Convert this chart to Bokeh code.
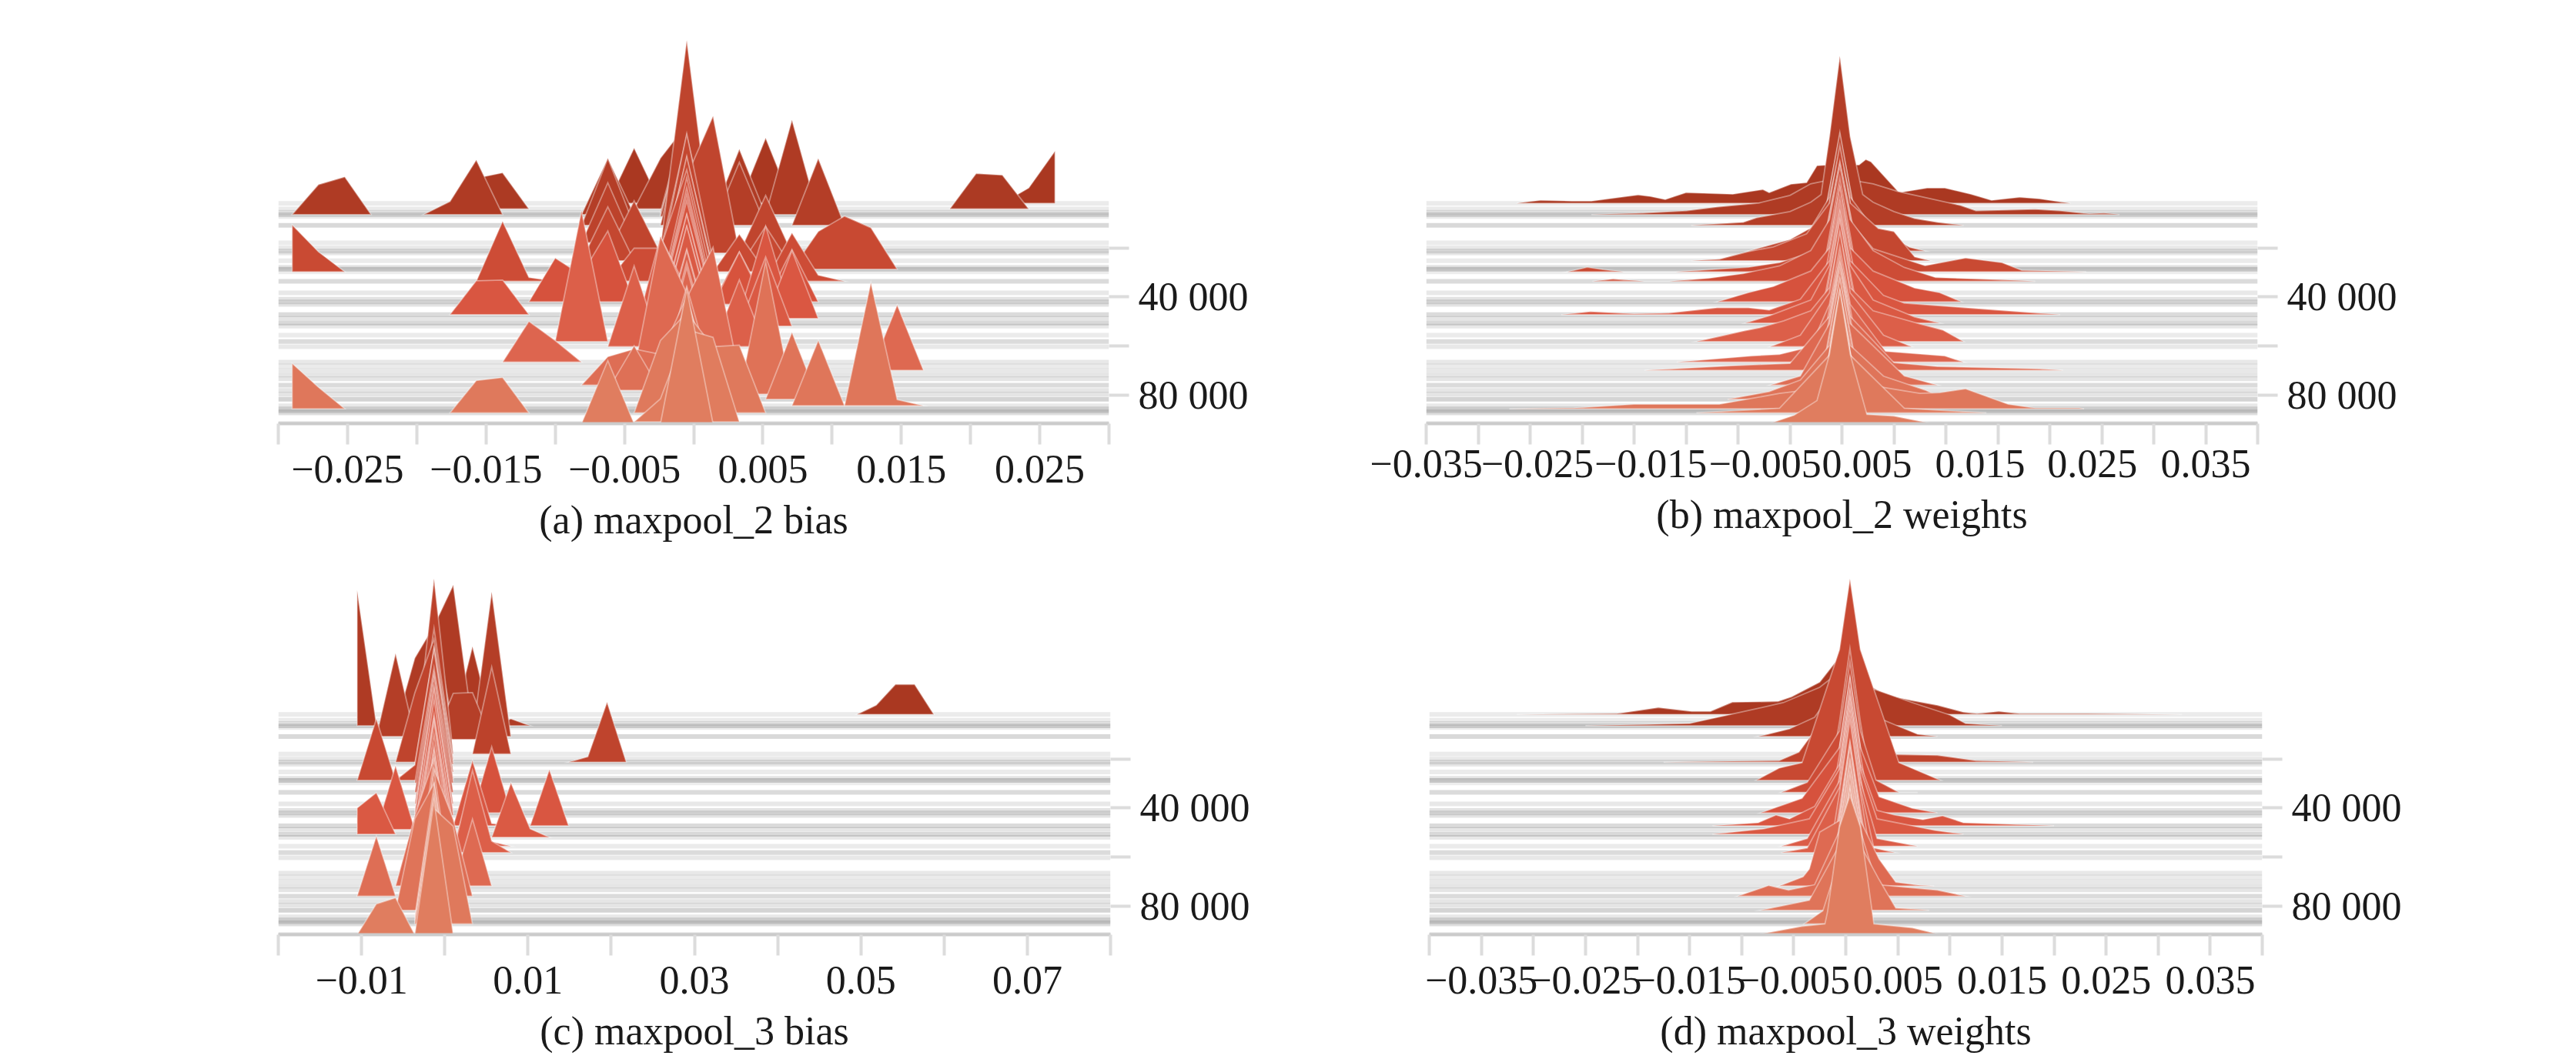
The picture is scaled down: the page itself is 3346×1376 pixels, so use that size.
from bokeh.plotting import figure
from bokeh.layouts import column, row
from bokeh.models import ColumnDataSource, FixedTicker, LinearAxis, Range1d
from bokeh.embed import file_html
from bokeh.resources import INLINE

FONT = "Liberation Serif"

# training steps of the recorded histograms (shared by all four panels)
steps = [1780, 4080, 5440, 6380, 7120, 10780, 17900, 19990, 21250, 22090,
         25220, 27840, 28680, 29730, 33600, 38310, 40920, 41970, 43020, 47200,
         48770, 50660, 51920, 55580, 58190, 60290, 66570, 68140, 69920, 71800,
         73380, 75990, 78090, 79660, 81740, 84370, 85630, 86440, 87290, 91700]
stripe_alpha = [0.08, 0.08, 0.09, 0.15, 0.08, 0.15, 0.08, 0.09, 0.11, 0.09,
                0.08, 0.10, 0.17, 0.07, 0.14, 0.09, 0.11, 0.11, 0.11, 0.14,
                0.10, 0.15, 0.09, 0.08, 0.14, 0.09, 0.09, 0.08, 0.09, 0.10,
                0.10, 0.14, 0.10, 0.10, 0.17, 0.09, 0.13, 0.13, 0.13, 0.14]
height_unit = 314          # one unit of density, in steps of the y scale

# ---- (a) maxpool_2 bias: bin index -> density
a_bin0, a_bin_width = -0.0005, 0.0019
a_walls = (-15, 14)
a_core = [120, 110, 130, 120, 125, 140, 150, 270, 150, 140, 165, 142, 130, 150, 145, 150, 145, 140, 135, 130,
          135, 125, 130, 135, 120, 125, 130, 128, 125, 130, 120, 115, 120, 118, 125, 120, 110, 115, 130, 175]
a_peaks = {
    1780: {13: 20, 14: 68, -2: 72, 3: 85},
    4080: {11: 46, 12: 44, -8: 40, -7: 47, -1: 66},
    6380: {-14: 39, -13: 49, -9: 17, -8: 71, -3: 73, 2: 85, 4: 123},
    10780: {-3: 87, 2: 82, 5: 87},
    17900: {-3: 78},
    22090: {0: 100, 1: 178, -2: 68, 3: 75},
    25220: {-3: 70},
    27840: {3: 53},
    28680: {5: 49, 6: 69, 7: 54},
    29730: {-15: 61, -14: 26, 2: 49},
    33600: {-7: 78, -6: 5, 4: 63, 5: 8, -2: 43, -1: 43},
    41970: {-5: 57, -4: 35, -3: 92, 4: 68, 2: 65},
    43020: {2: 68},
    47200: {-8: 44, -7: 45, 3: 115},
    48770: {4: 88},
    51920: {3: 90},
    55580: {-1: 128, 0: 60},
    58190: {-4: 170},
    60290: {-2: 105, 2: 87},
    66570: {-6: 53, -5: 28},
    69920: {8: 85, -1: 174, 0: 100},
    71800: {0: 100, 1: 166},
    75990: {-3: 37, -2: 47, -1: 40},
    78090: {-2: 58},
    79660: {3: 172},
    81740: {4: 87},
    84370: {7: 160, 8: 8, 5: 85},
    85630: {-15: 59, -14: 28},
    87290: {-8: 42, -7: 46, -1: 94, 1: 86, 2: 88},
    91000: {-1: 30, 0: 120, 1: 110},
    91700: {-3: 82},
}
a_ticks = [-0.025, -0.015, -0.005, 0.005, 0.015, 0.025]
a_labels = ["\u22120.025", "\u22120.015", "\u22120.005", "0.005", "0.015", "0.025"]
a_minor = [-0.03, -0.02, -0.01, 0, 0.01, 0.02, 0.03]

# ---- (c) maxpool_3 bias: bin index -> density
c_bin0, c_bin_width = -0.00129, 0.00231
c_walls = (-4, 99)
c_core = [100, 110, 120, 130, 135, 150, 228, 170, 160, 150, 160, 150, 170, 150, 155, 165, 160, 155, 165, 160,
          170, 150, 160, 165, 170, 160, 165, 160, 170, 165, 170, 165, 170, 160, 165, 170, 160, 165, 150, 174]
c_peaks = {
    1780: {23: 12, 24: 39, 25: 39},
    5440: {2: 100},
    6380: {-4: 176, -3: 2, -1: 88, 1: 183, 4: 9},
    10780: {-2: 108, 3: 188},
    12000: {1: 60, 2: 61},
    17900: {3: 113},
    21250: {-1: 90, 8: 7, 9: 78},
    28680: {-3: 80, -1: 20},
    41970: {3: 86},
    47200: {6: 73, 2: 85, 3: 3},
    48770: {-2: 83},
    50660: {-4: 34, -3: 54},
    51920: {4: 71, 5: 11},
    55580: {2: 83, 3: 6},
    58190: {2: 107, 3: 15},
    71800: {-1: 91, 2: 87},
    75990: {-3: 78, 1: 100},
    81740: {-1: 119},
    87290: {1: 127},
    91700: {-3: 40, -2: 48},
}
c_ticks = [-0.01, 0.01, 0.03, 0.05, 0.07]
c_labels = ["\u22120.01", "0.01", "0.03", "0.05", "0.07"]
c_minor = [-0.02, 0, 0.02, 0.04, 0.06, 0.08]

# ---- (b) maxpool_2 weights: x in thousandths, (apex, flank) density of the central spike
b_centre = (-1.2, -0.2, 0.8)
b_feet = (-2.2, 1.8)
b_core = [(60, 50), (65, 40), (70, 40), (100, 45), (80, 45), (220, 115), (140, 70), (150, 75), (130, 70), (135, 65),
          (150, 75), (135, 70), (140, 70), (130, 65), (150, 80), (150, 75), (145, 75), (150, 70), (140, 70), (145, 70),
          (140, 65), (145, 75), (140, 70), (150, 75), (140, 70), (150, 70), (150, 75), (140, 75), (150, 70), (145, 75),
          (150, 70), (150, 80), (145, 75), (150, 75), (140, 70), (150, 70), (145, 70), (150, 75), (150, 75), (173, 90)]
b_wings = {
    1780: ([(-31.3, 0), (-30.3, 2), (-29, 4), (-26, 3), (-24.1, 3), (-19.6, 11), (-18.4, 9), (-17, 5), (-15, 14),
            (-10.5, 12), (-7.6, 18), (-7, 14), (-4.9, 25), (-3.4, 27), (-2.4, 49)],
           [(1.65, 50), (2.3, 57), (2.8, 54), (5.5, 14), (8.2, 20), (9.9, 20), (12.4, 12), (14.4, 4), (17.1, 8),
            (19, 6), (21, 2), (22, 0)]),
    6380: ([(-24.1, 0), (-19.2, 2), (-15, 5), (-12, 10), (-8, 15), (-5, 25), (-3, 40)],
           [(3, 40), (5.4, 30), (11.4, 12), (12.9, 5), (18.6, 7), (21, 5), (23.8, 1), (25.2, 2), (26.7, 0)]),
    10780: ([(-14.5, 0), (-9.5, 4), (-8.2, 10), (-5, 18), (-3, 30), (-2, 40)],
            [(2, 40), (3, 30), (5, 18), (7, 9), (9.2, 4), (11.7, 0)]),
    21250: ([(-9, 0), (-5, 15), (-3, 30)], [(3, 30), (4.9, 18), (6.5, 5), (8, 0)]),
    25220: ([(-14.5, 0), (-11.8, 2), (-9, 12), (-6.6, 18), (-3.4, 35)], [(3.5, 42), (5, 38), (7, 5), (8.5, 0)]),
    29730: ([(-26.4, 0), (-24.5, 6), (-23, 3), (-21, 0), (-16, 0), (-12.5, 3), (-9, 6), (-6, 12), (-3, 25)],
            [(3, 30), (8, 8), (11.9, 18), (15.4, 12), (17.3, 2), (23.5, 0)]),
    33600: ([(-24, 0), (-22, 3), (-19, 0), (-16.6, 0), (-12.8, 4), (-9.5, 10), (-6, 20), (-3, 40)],
            [(3, 40), (6, 18), (9, 5), (15.4, 2), (18.6, 0)]),
    41970: ([(-12, 0), (-9, 12), (-6.6, 20), (-3, 40)], [(3, 40), (7, 18), (9.4, 12), (11.5, 0)]),
    47200: ([(-27, 0), (-26.2, 1), (-24.2, 4), (-20, 1), (-16.7, 2), (-12, 9), (-9, 9), (-7, 6), (-4, 20)],
            [(4, 25), (6, 15), (12.9, 8), (18.8, 2), (21, 0)]),
    50660: ([(-9.3, 0), (-6.9, 10), (-3, 30)], [(3, 30), (7, 8), (9.4, 0)]),
    58190: ([(-14, 0), (-9.4, 14), (-7.9, 18), (-5.6, 27), (-3, 40)], [(3, 40), (7.5, 23), (9.7, 15), (11.7, 0)]),
    60290: ([(-6.9, 0), (-4, 15)], [(4, 15), (6.7, 0)]),
    66570: ([(-15.9, 0), (-8.7, 8), (-6, 10), (-3, 20)], [(4.2, 14), (9.9, 8), (11.7, 0)]),
    69920: ([(-19, 0), (-10.6, 6), (-5, 9)], [(5, 10), (9.2, 5), (19, 2), (21.3, 0)]),
    75990: ([(-6.9, 0), (-4, 12)], [(6, 12), (9.2, 0)]),
    81740: ([(-11, 0), (-7, 10), (-4, 25)], [(4, 30), (8, 12), (10, 0)]),
    85630: ([(-32, 0), (-25.8, 1), (-20, 6), (-15, 6), (-11.8, 6), (-9.3, 12), (-6, 20), (-3, 25)],
            [(3, 30), (7.5, 20), (9.4, 21), (11.9, 26), (16, 6), (18.6, 1), (22.8, 1), (23.3, 0)]),
    87290: ([(-14, 0), (-6, 6)], [(6, 6), (13.9, 0)]),
    91700: ([(-7, 0), (-4.6, 11), (-2.4, 30)], [(2.4, 12), (5, 10), (8.7, 0)]),
}
b_ticks = [-0.035, -0.025, -0.015, -0.005, 0.005, 0.015, 0.025, 0.035]
b_labels = ["\u22120.035", "\u22120.025", "\u22120.015", "\u22120.005", "0.005", "0.015", "0.025", "0.035"]
b_label_pos = [-0.0400, -0.0293, -0.0184, -0.0074, 0.0024, 0.0133, 0.0241, 0.035]
b_minor = [-0.04, -0.03, -0.02, -0.01, 0, 0.01, 0.02, 0.03, 0.04]

# ---- (d) maxpool_3 weights
d_centre = (-0.6, 0.4, 1.4)
d_feet = (-1.6, 2.4)
d_core = [(100, 68), (150, 65), (160, 70), (170, 70), (165, 75), (175, 70), (170, 80), (180, 80), (165, 80), (170, 75),
          (175, 80), (170, 80), (262, 170), (175, 80), (170, 80), (165, 75), (170, 80), (175, 85), (165, 80), (175, 80),
          (170, 80), (175, 85), (170, 80), (175, 85), (170, 85), (180, 85), (170, 85), (175, 80), (170, 85), (180, 85),
          (170, 85), (175, 85), (175, 90), (170, 85), (175, 85), (170, 85), (175, 90), (170, 85), (175, 85), (181, 140)]
d_wings = {
    1780: ([(-31.6, 0), (-22, 1), (-18, 9), (-14.8, 4), (-13, 4), (-10.9, 16), (-6.5, 17), (-5.2, 23), (-2.5, 42), (-1.0, 68)],
           [(2.2, 38), (3.9, 25), (6.4, 18), (8.8, 12), (11.3, 3), (12.6, 1), (14.7, 4), (16.7, 1), (23.2, 1), (32.3, 0)]),
    6380: ([(-25, 0), (-18.3, 2), (-15, 3), (-9.6, 19), (-6, 30), (-2.5, 50)],
           [(2.2, 50), (6.4, 30), (10, 14), (11.5, 3), (13.8, 1), (15, 0)]),
    10780: ([(-8.4, 0), (-5.4, 10), (-3, 25)], [(3, 25), (6.9, 3), (8.8, 0)]),
    21250: ([(-17.5, 0), (-6.4, 2), (-4.5, 13), (-3.2, 37)], [(3.9, 27), (4.9, 10), (8.8, 9), (12.5, 2), (18, 0)]),
    28680: ([(-8.6, 0), (-6.4, 16), (-4.2, 23)], [(5.1, 23), (9.1, 0)]),
    33600: ([(-6.2, 0), (-3.7, 13)], [(2.9, 16), (5.1, 0), (6.9, 0)]),
    41970: ([(-8.2, 0), (-4.2, 19)], [(3.2, 21), (6.4, 6), (8.8, 0)]),
    47200: ([(-12.8, 0), (-8.4, 4), (-6.7, 14), (-5.4, 9), (-3, 25)],
            [(3, 20), (4.7, 14), (7.4, 8), (9.3, 13), (11.3, 4), (18, 1), (20, 0)]),
    50660: ([(-12.8, 0), (-7.9, 7), (-3.5, 20)], [(3, 20), (8.6, 5), (11.3, 0)]),
    55580: ([(-6.2, 0), (-3.7, 10)], [(3, 10), (6.9, 0)]),
    58190: ([(-6.2, 0), (-3.7, 6)], [(2.7, 6), (4.7, 0)]),
    71800: ([(-6.4, 0), (-4.1, 12), (-3.5, 22), (-2.5, 70)], [(3.2, 35), (4.8, 5), (7.1, 1), (8.5, 0)]),
    75990: ([(-10.4, 0), (-7.4, 14), (-5.5, 8), (-3, 15)], [(3, 15), (8.8, 8), (11.5, 0)]),
    81740: ([(-8.2, 0), (-3.5, 13)], [(3.2, 40), (4.8, 3), (7.1, 1), (8, 0)]),
    87290: ([(-4, 0), (-2.2, 17)], [(2.4, 0)]),
    91700: ([(-8.5, 0), (-4.2, 11), (-2, 14), (-1.75, 30)], [(2.7, 14), (6.4, 9), (9.1, 0)]),
}
d_ticks = b_ticks
d_labels = b_labels
d_minor = b_minor

assert len(steps) == len(a_core) == len(c_core) == len(b_core) == len(d_core) == len(stripe_alpha)

colour_stops = [(0, (168, 55, 32)), (30000, (201, 74, 51)), (45000, (217, 84, 63)),
                (65000, (221, 100, 78)), (92000, (224, 125, 95))]


def ridge_colour(step):
    for (s0, c0), (s1, c1) in zip(colour_stops, colour_stops[1:]):
        if step <= s1:
            t = (step - s0) / (s1 - s0)
            return "#%02x%02x%02x" % tuple(round(a + (b - a) * t) for a, b in zip(c0, c1))
    return "#e07d5f"


def bin_polygons(core, peaks, bin0, width, walls):
    core_by_step = dict(zip(steps, core))
    out = []
    for step in sorted(set(steps) | set(peaks)):
        dens = dict(peaks.get(step, {}))
        if step in core_by_step:
            dens.setdefault(0, core_by_step[step])
        keys = sorted(dens)
        run = []
        for i, k in enumerate(keys):
            run.append(k)
            if i == len(keys) - 1 or keys[i + 1] != k + 1:
                xs, hs = [], []
                if run[0] != walls[0]:
                    xs.append(bin0 + (run[0] - 1) * width)
                else:
                    xs.append(bin0 + run[0] * width)
                hs.append(0)
                for q in run:
                    xs.append(bin0 + q * width)
                    hs.append(dens[q])
                if run[-1] != walls[1]:
                    xs.append(bin0 + (run[-1] + 1) * width)
                else:
                    xs.append(bin0 + run[-1] * width)
                hs.append(0)
                out.append((step, xs, hs))
                run = []
    return out


def wing_polygons(core, wings, centre, feet):
    out = []
    for step, (apex, flank) in zip(steps, core):
        left, right = wings.get(step, ([(feet[0], 0)], [(feet[1], 0)]))
        pts = list(left) + [(centre[0], flank), (centre[1], apex), (centre[2], flank)] + list(right)
        out.append((step, [p[0] / 1000 for p in pts], [p[1] for p in pts]))
    return out


def panel(polys, x_span, y_span, w, h, borders, ticks, labels, minor, title, label_pos=None):
    left, right, top, bottom = borders
    p = figure(width=w, height=h, output_backend="svg", toolbar_location=None,
               x_range=Range1d(*x_span), y_range=Range1d(*y_span), y_axis_location="right",
               x_axis_location="below", background_fill_color="white", border_fill_color="white",
               outline_line_color=None, min_border_left=left, min_border_right=right,
               min_border_top=top, min_border_bottom=bottom)
    p.grid.visible = False

    # baselines of all histograms
    p.segment(x0=[x_span[0]] * len(steps), x1=[x_span[1]] * len(steps), y0=steps, y1=steps,
              line_color="#000000", line_alpha=stripe_alpha, line_width=6)

    src = ColumnDataSource(dict(
        xs=[q[1] for q in polys],
        ys=[[q[0] - v * height_unit for v in q[2]] for q in polys],
        c=[ridge_colour(q[0]) for q in polys],
    ))
    p.patches("xs", "ys", source=src, fill_color="c", fill_alpha=1.0,
              line_color="#ffffff", line_alpha=0.38, line_width=1.8, line_join="miter")

    ax = p.xaxis[0]
    ax.axis_line_color = "#cbcbcb"
    ax.axis_line_width = 4
    for a in ("major", "minor"):
        setattr(ax, a + "_tick_in", 0)
        setattr(ax, a + "_tick_out", 27)
        setattr(ax, a + "_tick_line_color", "#dcdcdc")
        setattr(ax, a + "_tick_line_width", 4)
    label_style = dict(major_label_text_font=FONT, major_label_text_font_size="52px",
                       major_label_text_color="#1a1a1a", major_label_standoff=14,
                       axis_label_text_font=FONT, axis_label_text_font_size="52px",
                       axis_label_text_font_style="normal", axis_label_text_color="#1a1a1a",
                       axis_label_standoff=17)
    if label_pos is None:
        ax.ticker = FixedTicker(ticks=ticks, minor_ticks=minor)
        ax.major_label_overrides = dict(zip(ticks, labels))
        ax.axis_label = title
        for k, v in label_style.items():
            setattr(ax, k, v)
    else:
        ax.ticker = FixedTicker(ticks=[], minor_ticks=sorted(ticks + minor))
        ax2 = LinearAxis(ticker=FixedTicker(ticks=label_pos), axis_line_color=None,
                         major_tick_in=0, major_tick_out=0, minor_tick_in=0, minor_tick_out=0,
                         major_label_overrides=dict(zip(label_pos, labels)), axis_label=title, **label_style)
        ax2.major_label_standoff = 7
        p.add_layout(ax2, "below")

    ay = p.yaxis[0]
    ay.ticker = FixedTicker(ticks=[40000, 80000], minor_ticks=[20000, 60000])
    ay.major_label_overrides = {40000: "40 000", 80000: "80 000"}
    ay.axis_line_color = None
    ay.major_label_text_font = FONT
    ay.major_label_text_font_size = "52px"
    ay.major_label_text_color = "#1a1a1a"
    ay.major_label_standoff = 12
    for a in ("major", "minor"):
        setattr(ay, a + "_tick_in", 0)
        setattr(ay, a + "_tick_out", 26)
        setattr(ay, a + "_tick_line_color", "#dcdcdc")
        setattr(ay, a + "_tick_line_width", 4)
    return p


top_y = (91700, -74730)
bot_y = (91700, -60380)

pa = panel(bin_polygons(a_core, a_peaks, a_bin0, a_bin_width, a_walls), (-0.03, 0.03), top_y,
           1700, 716, (361, 260, 20, 166), a_ticks, a_labels, a_minor, "(a) maxpool_2 bias")
pb = panel(wing_polygons(b_core, b_wings, b_centre, b_feet), (-0.04, 0.04), top_y,
           1646, 716, (152, 414, 20, 166), b_ticks, b_labels, b_minor, "(b) maxpool_2 weights", label_pos=b_label_pos)
pc = panel(bin_polygons(c_core, c_peaks, c_bin0, c_bin_width, c_walls), (-0.02, 0.08), bot_y,
           1700, 660, (361, 258, 14, 162), c_ticks, c_labels, c_minor, "(c) maxpool_3 bias")
pd = panel(wing_polygons(d_core, d_wings, d_centre, d_feet), (-0.04, 0.04), bot_y,
           1646, 660, (156, 408, 14, 162), d_ticks, d_labels, d_minor, "(d) maxpool_3 weights")

page = column(row(pa, pb, spacing=0), row(pc, pd, spacing=0), spacing=0)
open("out.html", "w").write(file_html(page, INLINE))
